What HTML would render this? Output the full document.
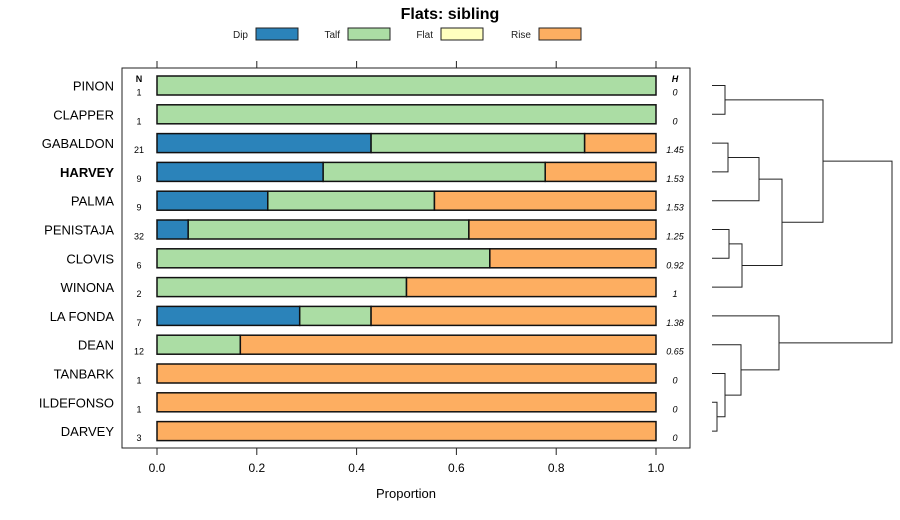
<!DOCTYPE html>
<html><head><meta charset="utf-8"><style>
body{margin:0;background:#fff;}
svg{display:block;font-family:"Liberation Sans",sans-serif;}
</style></head><body>
<svg id="chart" width="900" height="520"></svg>
<script>
const categories=["PINON","CLAPPER","GABALDON","HARVEY","PALMA","PENISTAJA","CLOVIS","WINONA","LA FONDA","DEAN","TANBARK","ILDEFONSO","DARVEY"];
const dipValues=[0,0,0.429,0.333,0.222,0.0625,0,0,0.286,0,0,0,0];
const talfValues=[1,1,0.428,0.445,0.334,0.5625,0.667,0.5,0.143,0.167,0,0,0];
const flatValues=[0,0,0,0,0,0,0,0,0,0,0,0,0];
const riseValues=[0,0,0.143,0.222,0.444,0.375,0.333,0.5,0.571,0.833,1,1,1];
const nValues=["1","1","21","9","9","32","6","2","7","12","1","1","3"];
const hValues=["0","0","1.45","1.53","1.53","1.25","0.92","1","1.38","0.65","0","0","0"];
const tickValues=[0,0.2,0.4,0.6,0.8,1.0];
const tickLabels=["0.0","0.2","0.4","0.6","0.8","1.0"];
const seriesNames=["Dip","Talf","Flat","Rise"];
const seriesColors=["#2b83ba","#abdda4","#ffffbf","#fdae61"];
// dendrogram merges: [childA, childB, height(px from leaves)]; negative = leaf index, positive = merge index (1-based)
const merges=[[-0,-1,13],[-2,-3,16],[2,-4,47],[-5,-6,17],[4,-7,30],[3,5,70],[1,6,111],[-11,-12,5],[-10,8,13],[-9,9,29],[-8,10,67],[7,11,180]];

const svg=document.getElementById('chart');
const NS='http://www.w3.org/2000/svg';
function el(tag,attrs,parent){const e=document.createElementNS(NS,tag);for(const k in attrs)e.setAttribute(k,attrs[k]);(parent||svg).appendChild(e);return e;}
const x0=157,x1=656;
const xs=v=>x0+v*(x1-x0);
const rowY=i=>85.5+i*28.8;
const barH=19;

let t=el('text',{x:450,y:19,'text-anchor':'middle','font-size':16,'font-weight':'bold'});t.textContent='Flats: sibling';



const legX=[256,348,441,539];
seriesNames.forEach((n,i)=>{
  const g=el('g',{});
  
  
  const tx=el('text',{x:legX[i]-8,y:38,'text-anchor':'end','font-size':10,fill:'#222'},g);tx.textContent=n;
  el('rect',{x:legX[i],y:28,width:42,height:12,fill:seriesColors[i],stroke:'#222','stroke-width':1},g);
});

const panel=el('rect',{x:122,y:68,width:568,height:380,fill:'none',stroke:'#222','stroke-width':1});



tickValues.forEach((v,i)=>{
  el('line',{x1:xs(v),x2:xs(v),y1:61,y2:68,stroke:'#222'});
  el('line',{x1:xs(v),x2:xs(v),y1:448,y2:455,stroke:'#222'});
  const tl=el('text',{x:xs(v),y:472,'text-anchor':'middle','font-size':12});tl.textContent=tickLabels[i];
  
  
});
let xt=el('text',{x:406,y:498,'text-anchor':'middle','font-size':13});xt.textContent='Proportion';


let nh=el('text',{x:139,y:82,'text-anchor':'middle','font-size':9,'font-weight':'bold'});nh.textContent='N';


let hh=el('text',{x:675,y:82,'text-anchor':'middle','font-size':9,'font-weight':'bold','font-style':'italic'});hh.textContent='H';



const series=[dipValues,talfValues,flatValues,riseValues];
categories.forEach((c,i)=>{
  const y=rowY(i);
  const lab=el('text',{x:114,y:y+5,'text-anchor':'end','font-size':13,'font-weight':c==='HARVEY'?'bold':'normal'});lab.textContent=c;
  
  
  const nt=el('text',{x:139,y:y+10,'text-anchor':'middle','font-size':9});nt.textContent=nValues[i];
  
  
  const ht=el('text',{x:675,y:y+10,'text-anchor':'middle','font-size':9,'font-style':'italic'});ht.textContent=hValues[i];
  
  
  let cum=0;
  series.forEach((s,k)=>{
    const v=s[i];
    if(v>0){
      const r=el('rect',{x:xs(cum),y:y-barH/2,width:xs(cum+v)-xs(cum),height:barH,fill:seriesColors[k],stroke:'#111','stroke-width':1.5});
      
      
    }
    cum+=v;
  });
});

// dendrogram
const leafX=712;
const nodes=[];
function pos(ref){ if(ref<=0 && (ref<0||Object.is(ref,-0)||ref===0)){ if(ref>0)return nodes[ref-1]; return {x:leafX,y:rowY(-ref)}; } return nodes[ref-1]; }
merges.forEach(m=>{
  const a=m[0]>0?nodes[m[0]-1]:{x:leafX,y:rowY(-m[0])};
  const b=m[1]>0?nodes[m[1]-1]:{x:leafX,y:rowY(-m[1])};
  const x=leafX+m[2];
  const p=el('path',{d:`M${a.x},${a.y}H${x}V${b.y}H${b.x}`,fill:'none',stroke:'#222','stroke-width':1});
  
  
  nodes.push({x:x,y:(a.y+b.y)/2});
});
</script>
</body></html>
